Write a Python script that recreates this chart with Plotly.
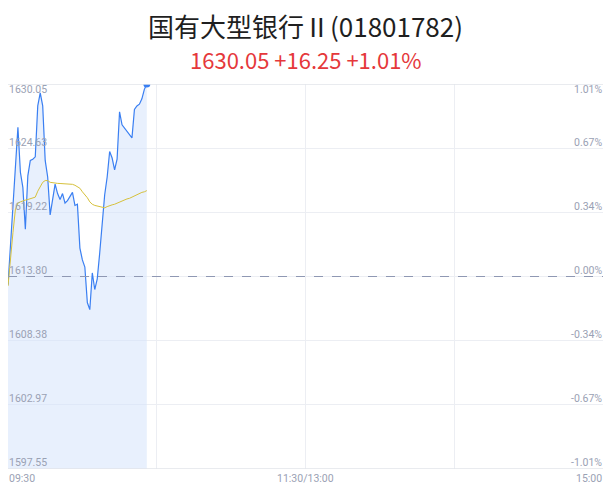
import plotly.graph_objects as go

# minute index from 09:30 (240 trading minutes in the day)
minutes = list(range(57))

price = [
    1613.1, 1616.5, 1620.0, 1623.5, 1626.4, 1622.6, 1621.3, 1617.8, 1622.3, 1623.6,
    1623.7, 1623.9, 1628.2, 1629.3, 1628.2, 1623.6, 1622.2, 1619.0, 1620.5, 1621.6,
    1620.8, 1620.3, 1620.8, 1620.0, 1620.2, 1620.6, 1620.9, 1619.8, 1619.9, 1616.2,
    1615.2, 1614.6, 1611.6, 1611.0, 1614.1, 1612.7, 1613.6, 1615.8, 1618.0, 1620.7,
    1622.2, 1624.35, 1623.8, 1622.8, 1623.7, 1627.7, 1626.6, 1626.3, 1626.1, 1625.8,
    1625.5, 1627.9, 1628.2, 1628.35, 1628.8, 1629.6, 1630.05,
]

avg_price = [
    1613.0, 1615.5, 1617.5, 1619.5, 1620.0, 1620.1, 1620.2, 1620.25, 1620.3, 1620.35,
    1620.4, 1620.5, 1621.0, 1621.4, 1621.75, 1621.9, 1621.9, 1621.75, 1621.7, 1621.68,
    1621.66, 1621.65, 1621.64, 1621.62, 1621.6, 1621.6, 1621.58, 1621.5, 1621.4, 1621.25,
    1620.95, 1620.7, 1620.45, 1620.1, 1619.9, 1619.8, 1619.75, 1619.65, 1619.6, 1619.6,
    1619.7, 1619.8, 1619.85, 1619.9, 1620.0, 1620.05, 1620.2, 1620.3, 1620.35, 1620.4,
    1620.5, 1620.65, 1620.7, 1620.8, 1620.9, 1620.95, 1621.05,
]

prev_close = 1613.80
y_levels = [1630.05, 1624.63, 1619.22, 1613.80, 1608.38, 1602.97, 1597.55]
pct_labels = ['1.01%', '0.67%', '0.34%', '0.00%', '-0.34%', '-0.67%', '-1.01%']
x_grid = [0, 60, 120, 180, 240]
x_labels = ['09:30', '11:30/13:00', '15:00']

title_text = '国有大型银行Ⅱ(01801782)'
sub_text = '1630.05 +16.25 +1.01%'

label_color = '#9aa1b4'
font_family = 'Noto Sans CJK SC, Noto Sans, sans-serif'
tick_font = 'Roboto, Liberation Sans, sans-serif'

fig = go.Figure()

fig.add_scatter(
    x=minutes, y=price, mode='lines',
    line=dict(color='#3a7ff2', width=1.2),
    fill='tozeroy', fillcolor='rgba(214,228,252,0.55)',
    hoverinfo='skip', showlegend=False,
)
fig.add_scatter(
    x=minutes, y=avg_price, mode='lines',
    line=dict(color='#d6c13c', width=1),
    hoverinfo='skip', showlegend=False,
)
fig.add_scatter(
    x=[minutes[-1]], y=[price[-1]], mode='markers',
    marker=dict(color='#3a7ff2', size=7),
    hoverinfo='skip', showlegend=False,
)

# previous close dashed line
fig.add_shape(type='line', xref='paper', x0=0, x1=1, yref='y', y0=prev_close, y1=prev_close,
              line=dict(color='#8f98b3', width=1, dash='dash'))
# top and bottom borders
for yv in (y_levels[0], y_levels[-1]):
    fig.add_shape(type='line', xref='paper', x0=0, x1=1, yref='y', y0=yv, y1=yv,
                  line=dict(color='#e2e4ea', width=1.5))

annotations = []
last = len(y_levels) - 1
for i, (lv, pl) in enumerate(zip(y_levels, pct_labels)):
    anchor = 'top' if i == 0 else 'bottom'
    if i == 0:
        shift = 2
    elif i == last:
        shift = -1
    else:
        shift = -1.5
    for xp, txt, xa in ((0, '{:.2f}'.format(lv), 'left'), (1, pl, 'right')):
        annotations.append(dict(x=xp, xref='paper', y=lv, yref='y', text=txt,
                                showarrow=False, xanchor=xa, yanchor=anchor, yshift=shift,
                                borderpad=0,
                                font=dict(size=10.5, color=label_color, family=tick_font)))

for xv, txt, anchor in zip([0, 120, 240], x_labels, ['left', 'center', 'right']):
    annotations.append(dict(x=xv, xref='x', y=0, yref='paper', text=txt, showarrow=False,
                            xanchor=anchor, yanchor='top', yshift=-2, borderpad=0,
                            font=dict(size=10.5, color=label_color, family=tick_font)))

annotations.append(dict(x=0.5, xref='paper', y=1, yref='paper', text=title_text, showarrow=False,
                        xanchor='center', yanchor='middle', yshift=59,
                        font=dict(size=26, color='#1f1f1f', family=font_family)))
annotations.append(dict(x=0.5, xref='paper', y=1, yref='paper', text=sub_text, showarrow=False,
                        xanchor='center', yanchor='middle', yshift=25,
                        font=dict(size=22, color='#e5383b', family=font_family)))

# the page body keeps an 8px margin, so the figure is 8px smaller and starts at (8, 8)
fig.update_layout(
    width=603, height=484,
    margin=dict(l=0, r=8, t=76, b=23),
    paper_bgcolor='white', plot_bgcolor='white',
    annotations=annotations,
    xaxis=dict(range=[0, 240], tickvals=x_grid, showticklabels=False, showgrid=True,
               gridcolor='#eceef3', gridwidth=1, zeroline=False, showline=False, fixedrange=True),
    yaxis=dict(range=[y_levels[-1], y_levels[0]], tickvals=y_levels, showticklabels=False,
               showgrid=True, gridcolor='#eceef3', gridwidth=1, zeroline=False, showline=False,
               fixedrange=True),
)

fig.write_html('out.html')
